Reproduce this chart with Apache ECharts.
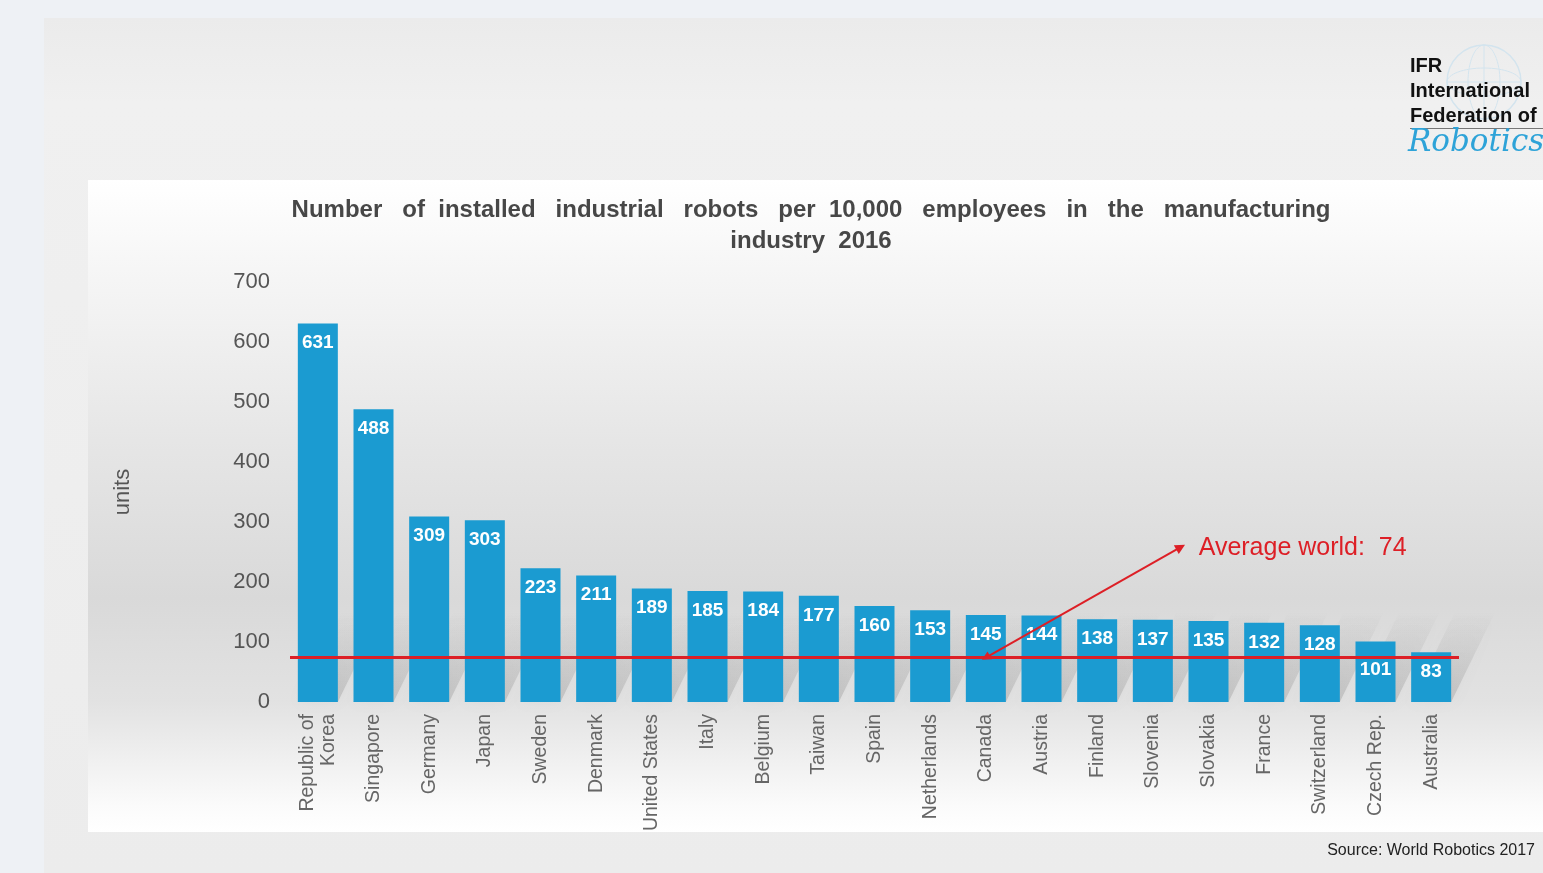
<!DOCTYPE html>
<html>
<head>
<meta charset="utf-8">
<script src="https://cdn.jsdelivr.net/npm/echarts@6/dist/echarts.min.js"></script>
<style>
  html, body { margin: 0; padding: 0; width: 1543px; height: 873px; overflow: hidden; background: #eef1f5; }
  #slide { position: absolute; left: 44px; top: 18px; width: 1499px; height: 855px;
           background: linear-gradient(180deg, #ebebeb 0%, #f0f0f0 10%, #ececec 100%); }
  #panel { position: absolute; left: 88px; top: 180px; width: 1455px; height: 652px;
           background: linear-gradient(180deg, #ffffff 0%, #f7f7f7 12%, #e6e6e6 40%, #d9d9d9 64%, #e2e2e2 80%, #fbfbfb 96%, #ffffff 100%); }
  #chart { position: absolute; left: 0; top: 0; width: 1543px; height: 873px; }
</style>
</head>
<body>
<div id="slide"></div>
<div id="panel"></div>
<div id="chart"></div>
<script>
// Robot density per country, 2016
const countries = ['Republic of\nKorea', 'Singapore', 'Germany', 'Japan', 'Sweden', 'Denmark',
  'United States', 'Italy', 'Belgium', 'Taiwan', 'Spain', 'Netherlands', 'Canada', 'Austria',
  'Finland', 'Slovenia', 'Slovakia', 'France', 'Switzerland', 'Czech Rep.', 'Australia'];
const robotsPer10k = [631, 488, 309, 303, 223, 211, 189, 185, 184, 177, 160, 153, 145, 144,
  138, 137, 135, 132, 128, 101, 83];
const worldAverage = 74;
// Arrow from the average line (at Canada) up to the caption, in category-index units
const arrowFrom = [12, worldAverage];
const arrowTo = [15.5, 258];
const yTicks = { min: 0, max: 700, interval: 100 };

const FONT = 'Liberation Sans, Arial, sans-serif';
const RED = '#dd1f26';
const chart = echarts.init(document.getElementById('chart'), null, { renderer: 'canvas' });

const barData = robotsPer10k.map((v, i) => {
  const item = { value: v };
  if (countries[i] === 'Czech Rep.') item.label = { distance: 19 };
  return item;
});
const shadowData = robotsPer10k.map((v, i) => [i, v]);

// Soft cast shadow leaning up and to the right from each bar's foot
function renderShadow(params, api) {
  const base = api.coord([api.value(0), 0]);
  const half = 20, h = 90, dx = 44;
  return {
    type: 'polygon',
    shape: { points: [
      [base[0] - half, base[1]], [base[0] + half, base[1]],
      [base[0] + half + dx, base[1] - h], [base[0] - half + dx, base[1] - h]
    ] },
    style: {
      fill: { type: 'linear', x: 0, y: 1, x2: 0, y2: 0, colorStops: [
        { offset: 0, color: 'rgba(80,80,80,0.2)' },
        { offset: 0.5, color: 'rgba(80,80,80,0.1)' },
        { offset: 1, color: 'rgba(80,80,80,0)' }
      ] },
      shadowBlur: 14, shadowColor: 'rgba(80,80,80,0.2)'
    }
  };
}

chart.setOption({
  backgroundColor: 'transparent',
  animation: false,
  textStyle: { fontFamily: FONT },
  title: {
    text: 'Number   of  installed   industrial   robots   per  10,000   employees   in   the   manufacturing\nindustry  2016',
    left: 806, top: 190, textAlign: 'center',
    textStyle: { fontSize: 24, fontWeight: 'bold', color: '#474747', lineHeight: 31, fontFamily: FONT }
  },
  grid: { left: 290, right: 84, top: 282, bottom: 171 },
  xAxis: [{
    type: 'category',
    data: countries,
    axisLine: { show: false },
    axisTick: { show: false },
    axisLabel: { rotate: 90, fontSize: 19.5, color: '#666', margin: 12, lineHeight: 21, interval: 0 }
  }, {
    type: 'value', min: -0.5, max: countries.length - 0.5, show: false
  }],
  yAxis: {
    type: 'value',
    min: yTicks.min, max: yTicks.max, interval: yTicks.interval,
    name: 'units', nameLocation: 'middle', nameGap: 156, nameRotate: 90,
    nameTextStyle: { fontSize: 22, color: '#555' },
    axisLine: { show: false },
    axisTick: { show: false },
    splitLine: { show: false },
    axisLabel: { fontSize: 22, color: '#555', margin: 20 }
  },
  series: [{
    type: 'custom',
    xAxisIndex: 1,
    z: 1,
    silent: true,
    data: shadowData,
    renderItem: renderShadow,
    markLine: {
      silent: true,
      z: 6,
      label: { show: false },
      symbol: ['none', 'none'],
      data: [
        { yAxis: worldAverage, symbol: 'none', lineStyle: { color: RED, width: 3, type: 'solid' } },
        [
          { coord: arrowFrom, symbol: 'triangle', symbolSize: 9, lineStyle: { color: RED, width: 2, type: 'solid' } },
          { coord: arrowTo, symbol: 'triangle', symbolSize: 10 }
        ]
      ]
    }
  }, {
    type: 'bar',
    z: 2,
    data: barData,
    barWidth: 40,
    itemStyle: { color: '#1b9bd1' },
    label: { show: true, position: 'insideTop', distance: 10, color: '#fff', fontSize: 19, fontWeight: 'bold' }
  }]
});

// Caption at the arrow tip, positioned through the chart's own scales
const tip = chart.convertToPixel({ xAxisIndex: 1, yAxisIndex: 0 }, arrowTo);
const globe = { cx: 1484, cy: 82, r: 37 };
const globeLines = '#d3e4ee';

chart.setOption({
  graphic: [
    { type: 'text', left: tip[0] + 18, top: tip[1] - 12,
      style: { text: 'Average world:  74', fill: RED, fontSize: 25, fontFamily: FONT } },
    // IFR logo
    { type: 'circle', shape: { cx: globe.cx, cy: globe.cy, r: globe.r }, style: { fill: 'none', stroke: globeLines, lineWidth: 1.5 } },
    { type: 'ellipse', shape: { cx: globe.cx, cy: globe.cy, rx: 16, ry: globe.r }, style: { fill: 'none', stroke: globeLines, lineWidth: 1 } },
    { type: 'ellipse', shape: { cx: globe.cx, cy: globe.cy, rx: globe.r, ry: 14 }, style: { fill: 'none', stroke: globeLines, lineWidth: 1 } },
    { type: 'line', shape: { x1: globe.cx, y1: globe.cy - globe.r, x2: globe.cx, y2: globe.cy + globe.r }, style: { stroke: globeLines, lineWidth: 1 } },
    { type: 'line', shape: { x1: globe.cx - globe.r, y1: globe.cy, x2: globe.cx + globe.r, y2: globe.cy }, style: { stroke: globeLines, lineWidth: 1 } },
    { type: 'text', left: 1410, top: 54,
      style: { text: 'IFR\nInternational\nFederation of', fill: '#111', fontSize: 20, fontWeight: 'bold', lineHeight: 25, fontFamily: FONT } },
    { type: 'rect', shape: { x: 1410, y: 128, width: 133, height: 1 }, style: { fill: '#777' } },
    { type: 'text', left: 1408, top: 127,
      style: { text: 'Robotics', fill: '#2ea3d8', fontSize: 31, fontStyle: 'italic', fontFamily: 'DejaVu Serif, serif' } },
    { type: 'text', right: 8, top: 843,
      style: { text: 'Source: World Robotics 2017', fill: '#222', fontSize: 16, fontFamily: FONT } }
  ]
});
</script>
</body>
</html>
